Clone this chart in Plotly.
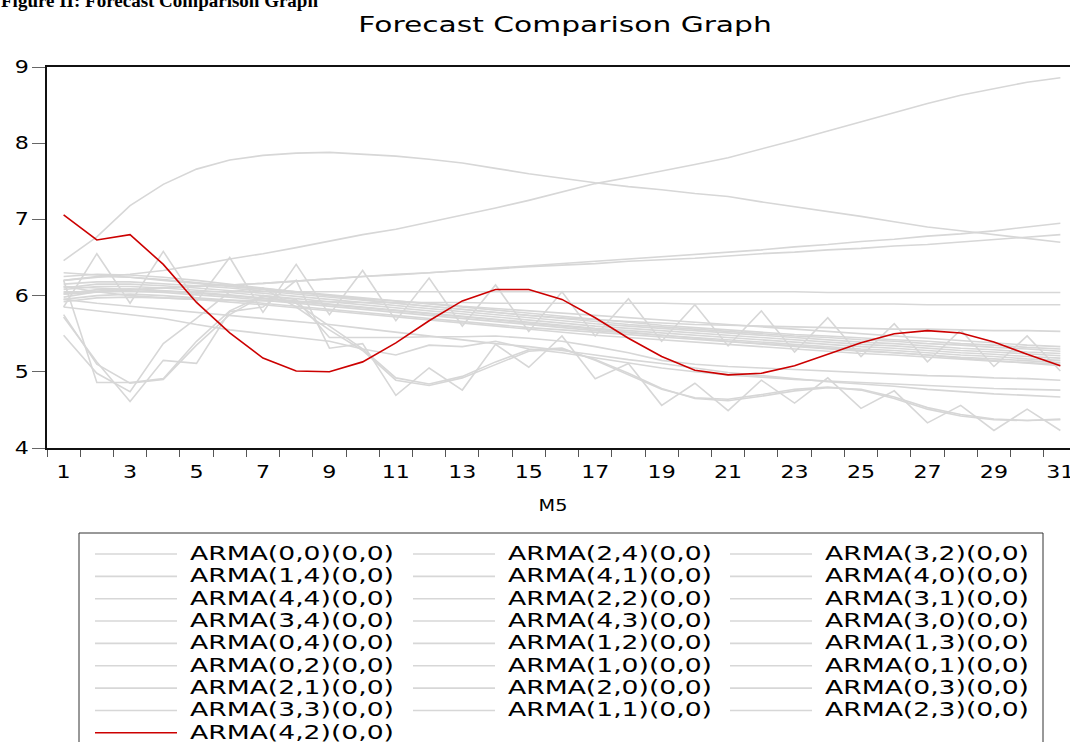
import plotly.graph_objects as go

# ---------------- data ----------------
periods = list(range(1, 32))
x_tick_vals = [1, 3, 5, 7, 9, 11, 13, 15, 17, 19, 21, 23, 25, 27, 29, 31]
y_tick_vals = [4, 5, 6, 7, 8, 9]

arma_00 = [6.05, 6.05, 6.05, 6.05, 6.05, 6.05, 6.05, 6.05, 6.05, 6.05, 6.05, 6.05, 6.05, 6.05, 6.05, 6.05,
           6.05, 6.05, 6.05, 6.05, 6.05, 6.05, 6.05, 6.04, 6.04, 6.04, 6.04, 6.04, 6.04, 6.04, 6.04]
arma_01 = [6.12, 6.05, 6.00, 5.97, 5.95, 5.94, 5.93, 5.92, 5.92, 5.91, 5.91, 5.91, 5.91, 5.90, 5.90, 5.90,
           5.90, 5.90, 5.90, 5.89, 5.89, 5.89, 5.89, 5.89, 5.89, 5.89, 5.88, 5.88, 5.88, 5.88, 5.88]
arma_24 = [6.46, 6.77, 7.18, 7.46, 7.66, 7.78, 7.84, 7.87, 7.88, 7.86, 7.83, 7.79, 7.74, 7.67, 7.60, 7.54,
           7.48, 7.43, 7.39, 7.34, 7.30, 7.23, 7.17, 7.10, 7.04, 6.97, 6.90, 6.85, 6.80, 6.75, 6.70]
arma_44 = [6.20, 6.24, 6.28, 6.33, 6.40, 6.48, 6.55, 6.63, 6.72, 6.80, 6.87, 6.96, 7.06, 7.15, 7.25, 7.36,
           7.47, 7.55, 7.63, 7.72, 7.81, 7.92, 8.04, 8.16, 8.28, 8.40, 8.52, 8.63, 8.72, 8.80, 8.86]
arma_43 = [6.02, 6.04, 6.07, 6.10, 6.12, 6.14, 6.16, 6.19, 6.22, 6.25, 6.28, 6.30, 6.33, 6.36, 6.39, 6.42,
           6.45, 6.48, 6.51, 6.54, 6.57, 6.60, 6.64, 6.67, 6.71, 6.74, 6.78, 6.81, 6.85, 6.90, 6.95]
arma_34 = [6.04, 6.06, 6.08, 6.10, 6.12, 6.14, 6.16, 6.19, 6.22, 6.25, 6.27, 6.30, 6.33, 6.35, 6.38, 6.40,
           6.42, 6.45, 6.47, 6.49, 6.52, 6.55, 6.57, 6.60, 6.62, 6.65, 6.67, 6.70, 6.73, 6.77, 6.80]
arma_32 = [5.85, 6.55, 5.90, 6.58, 5.92, 6.50, 5.78, 6.41, 5.75, 6.33, 5.67, 6.23, 5.60, 6.14, 5.53, 6.05,
           5.47, 5.96, 5.40, 5.88, 5.34, 5.80, 5.26, 5.71, 5.20, 5.63, 5.13, 5.55, 5.07, 5.47, 5.01]
arma_33 = [5.72, 5.13, 4.61, 5.15, 5.11, 5.79, 5.85, 6.20, 5.31, 5.37, 4.69, 5.05, 4.76, 5.36, 5.06, 5.47,
           4.91, 5.11, 4.56, 4.85, 4.49, 4.89, 4.59, 4.92, 4.52, 4.75, 4.33, 4.56, 4.23, 4.51, 4.23]
arma_41 = [5.75, 5.10, 4.85, 4.90, 5.35, 5.75, 6.00, 5.90, 5.60, 5.30, 4.92, 4.84, 4.94, 5.13, 5.29, 5.31,
           5.15, 4.96, 4.77, 4.66, 4.64, 4.70, 4.77, 4.80, 4.76, 4.65, 4.51, 4.42, 4.37, 4.36, 4.37]
arma_40 = [5.48, 4.98, 4.74, 5.37, 5.70, 6.05, 6.10, 5.85, 5.55, 5.28, 4.89, 4.82, 4.92, 5.10, 5.27, 5.30,
           5.16, 4.98, 4.78, 4.65, 4.62, 4.68, 4.75, 4.79, 4.77, 4.67, 4.53, 4.44, 4.38, 4.36, 4.38]
arma_22 = [6.20, 4.86, 4.86, 4.91, 5.40, 5.80, 6.00, 5.95, 5.45, 5.45, 5.45, 5.46, 5.46, 5.47, 5.44, 5.40,
           5.33, 5.25, 5.15, 5.10, 5.07, 5.05, 5.03, 5.01, 4.99, 4.97, 4.95, 4.94, 4.92, 4.91, 4.89]
arma_31 = [5.85, 5.80, 5.75, 5.70, 5.62, 5.55, 5.50, 5.45, 5.40, 5.30, 5.22, 5.35, 5.33, 5.40, 5.30, 5.25,
           5.18, 5.12, 5.05, 5.00, 4.96, 4.93, 4.90, 4.88, 4.86, 4.84, 4.82, 4.80, 4.78, 4.77, 4.76]
arma_30 = [5.95, 5.90, 5.86, 5.82, 5.78, 5.74, 5.70, 5.66, 5.62, 5.57, 5.52, 5.47, 5.42, 5.37, 5.33, 5.28,
           5.22, 5.16, 5.11, 5.05, 4.99, 4.95, 4.91, 4.87, 4.84, 4.81, 4.77, 4.74, 4.71, 4.69, 4.67]
arma_14 = [6.25, 6.28, 6.27, 6.24, 6.20, 6.15, 6.10, 6.05, 6.00, 5.95, 5.90, 5.86, 5.82, 5.78, 5.74, 5.71,
           5.68, 5.66, 5.64, 5.62, 5.61, 5.60, 5.59, 5.58, 5.57, 5.56, 5.56, 5.55, 5.54, 5.54, 5.53]
arma_04 = [6.20, 6.25, 6.24, 6.21, 6.17, 6.13, 6.09, 6.05, 6.01, 5.97, 5.93, 5.89, 5.85, 5.81, 5.77, 5.73,
           5.69, 5.65, 5.61, 5.58, 5.55, 5.52, 5.49, 5.47, 5.44, 5.42, 5.40, 5.37, 5.35, 5.32, 5.30]
arma_12 = [6.15, 6.18, 6.18, 6.16, 6.13, 6.10, 6.06, 6.02, 5.98, 5.94, 5.90, 5.86, 5.82, 5.78, 5.74, 5.70,
           5.66, 5.62, 5.59, 5.56, 5.53, 5.50, 5.47, 5.45, 5.42, 5.40, 5.37, 5.35, 5.32, 5.30, 5.27]
arma_13 = [6.10, 6.15, 6.15, 6.13, 6.10, 6.07, 6.03, 5.99, 5.95, 5.91, 5.87, 5.83, 5.79, 5.75, 5.71, 5.67,
           5.63, 5.60, 5.57, 5.54, 5.51, 5.48, 5.45, 5.42, 5.39, 5.37, 5.34, 5.31, 5.29, 5.26, 5.24]
arma_02 = [6.08, 6.12, 6.12, 6.10, 6.07, 6.04, 6.00, 5.96, 5.92, 5.88, 5.84, 5.80, 5.76, 5.72, 5.68, 5.64,
           5.60, 5.57, 5.54, 5.51, 5.48, 5.45, 5.42, 5.39, 5.36, 5.34, 5.31, 5.28, 5.26, 5.23, 5.21]
arma_10 = [6.02, 6.08, 6.09, 6.07, 6.04, 6.01, 5.97, 5.93, 5.89, 5.85, 5.81, 5.77, 5.73, 5.69, 5.65, 5.61,
           5.57, 5.54, 5.51, 5.48, 5.45, 5.42, 5.39, 5.36, 5.33, 5.31, 5.28, 5.25, 5.23, 5.20, 5.18]
arma_21 = [5.98, 6.05, 6.06, 6.04, 6.01, 5.98, 5.94, 5.90, 5.86, 5.82, 5.78, 5.74, 5.70, 5.66, 5.62, 5.58,
           5.54, 5.51, 5.48, 5.45, 5.42, 5.39, 5.36, 5.33, 5.30, 5.28, 5.25, 5.22, 5.20, 5.17, 5.15]
arma_20 = [5.95, 6.00, 6.02, 6.00, 5.97, 5.94, 5.90, 5.86, 5.82, 5.78, 5.74, 5.70, 5.66, 5.62, 5.58, 5.55,
           5.52, 5.48, 5.45, 5.42, 5.39, 5.36, 5.33, 5.30, 5.27, 5.25, 5.22, 5.19, 5.17, 5.14, 5.12]
arma_03 = [5.92, 5.97, 5.98, 5.97, 5.95, 5.92, 5.88, 5.84, 5.80, 5.76, 5.72, 5.68, 5.64, 5.60, 5.56, 5.52,
           5.48, 5.45, 5.42, 5.39, 5.36, 5.33, 5.30, 5.27, 5.24, 5.22, 5.19, 5.17, 5.14, 5.12, 5.10]
arma_11 = [6.12, 6.10, 6.08, 6.06, 6.03, 6.00, 5.96, 5.92, 5.88, 5.84, 5.80, 5.76, 5.72, 5.68, 5.64, 5.60,
           5.56, 5.52, 5.48, 5.44, 5.40, 5.37, 5.34, 5.31, 5.28, 5.25, 5.22, 5.18, 5.15, 5.12, 5.08]
arma_23 = [6.30, 6.27, 6.24, 6.20, 6.16, 6.12, 6.08, 6.04, 6.00, 5.96, 5.93, 5.90, 5.86, 5.83, 5.80, 5.77,
           5.74, 5.71, 5.68, 5.65, 5.62, 5.59, 5.56, 5.53, 5.50, 5.47, 5.44, 5.41, 5.38, 5.35, 5.33]
arma_42 = [7.06, 6.73, 6.80, 6.41, 5.91, 5.51, 5.18, 5.01, 5.00, 5.13, 5.38, 5.67, 5.93, 6.08, 6.08, 5.95,
           5.71, 5.44, 5.20, 5.02, 4.96, 4.98, 5.08, 5.23, 5.38, 5.50, 5.54, 5.51, 5.39, 5.23, 5.08]

# legend order (row-major, 3 columns)
series_names = ["ARMA(0,0)(0,0)", "ARMA(2,4)(0,0)", "ARMA(3,2)(0,0)",
                "ARMA(1,4)(0,0)", "ARMA(4,1)(0,0)", "ARMA(4,0)(0,0)",
                "ARMA(4,4)(0,0)", "ARMA(2,2)(0,0)", "ARMA(3,1)(0,0)",
                "ARMA(3,4)(0,0)", "ARMA(4,3)(0,0)", "ARMA(3,0)(0,0)",
                "ARMA(0,4)(0,0)", "ARMA(1,2)(0,0)", "ARMA(1,3)(0,0)",
                "ARMA(0,2)(0,0)", "ARMA(1,0)(0,0)", "ARMA(0,1)(0,0)",
                "ARMA(2,1)(0,0)", "ARMA(2,0)(0,0)", "ARMA(0,3)(0,0)",
                "ARMA(3,3)(0,0)", "ARMA(1,1)(0,0)", "ARMA(2,3)(0,0)",
                "ARMA(4,2)(0,0)"]
series_values = [arma_00, arma_24, arma_32, arma_14, arma_41, arma_40, arma_44, arma_22, arma_31,
                 arma_34, arma_43, arma_30, arma_04, arma_12, arma_13, arma_02, arma_10, arma_01,
                 arma_21, arma_20, arma_03, arma_33, arma_11, arma_23, arma_42]
highlight = "ARMA(4,2)(0,0)"

for v in series_values:
    assert len(v) == 31

# ---------------- style ----------------
GREY = "#d7d7d7"
RED = "#cc0000"
FONT = "DejaVu Sans"
W, H = 1070, 742
L, R, T, B = 47, 0, 67, 294
PW, PH = W - L - R, H - T - B


def px_x(p):
    return (p - L) / PW


def px_y(p):
    return (H - B - p) / PH


fig = go.Figure()
order = [i for i, n in enumerate(series_names) if n != highlight] + \
        [i for i, n in enumerate(series_names) if n == highlight]
for i in order:
    name = series_names[i]
    fig.add_trace(go.Scatter(
        x=periods, y=series_values[i], mode="lines", name=name,
        line=dict(color=RED if name == highlight else GREY, width=1.6),
        showlegend=False, hoverinfo="x+y+name"))

shapes = []
annotations = []

# legend box
shapes.append(dict(type="rect", xref="paper", yref="paper",
                   x0=px_x(79), x1=px_x(1043), y0=px_y(533), y1=px_y(770),
                   line=dict(color="#333333", width=1), fillcolor="rgba(0,0,0,0)", layer="above"))
col_line_x0 = [95, 413, 730]
col_line_x1 = [177, 495, 812]
col_text_x = [189, 507, 824]
row_y0, row_dy = 553.0, 22.35
for k, name in enumerate(series_names):
    r, c = divmod(k, 3)
    yc = row_y0 + r * row_dy
    shapes.append(dict(type="line", xref="paper", yref="paper",
                       x0=px_x(col_line_x0[c]), x1=px_x(col_line_x1[c]),
                       y0=px_y(yc + 1), y1=px_y(yc + 1),
                       line=dict(color=RED if name == highlight else GREY, width=1.6)))
    annotations.append(dict(xref="paper", yref="paper", x=px_x(col_text_x[c]), y=px_y(yc),
                            xanchor="left", yanchor="middle", align="left", text=name,
                            showarrow=False, borderpad=0,
                            font=dict(family=FONT, size=19, color="black")))

# axis title
annotations.append(dict(xref="paper", yref="paper", x=px_x(553), y=px_y(505),
                        xanchor="center", yanchor="middle", text="M5", showarrow=False,
                        font=dict(family=FONT, size=16, color="black")))
# cropped caption at the very top (as in the reference)
annotations.append(dict(xref="paper", yref="paper", x=px_x(0), y=px_y(12),
                        xanchor="left", yanchor="bottom", align="left",
                        text="<b>Figure II: Forecast Comparison Graph</b>",
                        showarrow=False, borderpad=0,
                        font=dict(family="Liberation Serif", size=19, color="black")))

fig.update_layout(
    width=W, height=H,
    margin=dict(l=L, r=R, t=T, b=B, pad=0),
    paper_bgcolor="white", plot_bgcolor="white",
    title=dict(text="Forecast Comparison Graph", x=565 / W, xanchor="center",
               y=1 - 24 / H, yanchor="middle",
               font=dict(family=FONT, size=22, color="black")),
    shapes=shapes, annotations=annotations,
    showlegend=False,
    xaxis=dict(range=[0.5, 31.29], tickmode="array", tickvals=x_tick_vals,
               ticktext=[str(v) for v in x_tick_vals],
               ticks="outside", ticklen=8, tickcolor="rgba(0,0,0,0)",
               ticklabeloverflow="allow",
               minor=dict(tickmode="array", tickvals=[v + 0.5 for v in range(0, 32)],
                          ticks="outside", ticklen=7, tickwidth=1, tickcolor="#555555"),
               showline=True, linecolor="#111111", linewidth=1.5, mirror=True,
               showgrid=False, zeroline=False,
               tickfont=dict(family=FONT, size=17, color="black")),
    yaxis=dict(range=[4, 9], tickmode="array", tickvals=y_tick_vals,
               ticks="outside", ticklen=13, tickwidth=1, tickcolor="#666666",
               showline=True, linecolor="#111111", linewidth=1.5,
               showgrid=False, zeroline=False,
               tickfont=dict(family=FONT, size=17, color="black")),
)

# the reference's sans-serif text is horizontally stretched; widen glyphs the same way
post_js = """
document.body.style.margin = '0';
document.body.style.overflow = 'hidden';
var gd = document.getElementById('{plot_id}');
var els = gd.querySelectorAll('text.annotation-text, text.gtitle, g.xtick text, g.ytick text');
els.forEach(function (el) {
  var s = el.textContent || '';
  if (s.indexOf('Figure') === 0) { return; }
  var f = 1.30;
  if (s.indexOf('ARMA') === 0) { f = 1.40; }
  else if (el.classList.contains('gtitle')) { f = 1.35; }
  else if (s === 'M5') { f = 1.2; }
  var w = el.getComputedTextLength();
  el.setAttribute('textLength', (w * f).toFixed(1));
  el.setAttribute('lengthAdjust', 'spacingAndGlyphs');
});
"""

fig.write_html("out.html", post_script=post_js, config={"displayModeBar": False})
